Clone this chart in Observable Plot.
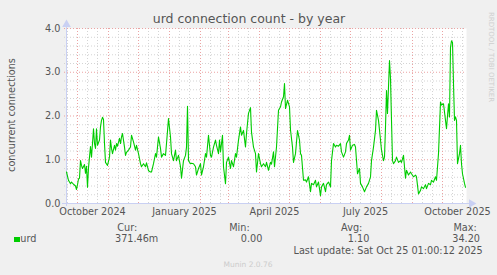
<!DOCTYPE html>
<html><head><meta charset="utf-8">
<script src="https://cdn.jsdelivr.net/npm/d3@7"></script>
<script src="https://cdn.jsdelivr.net/npm/@observablehq/plot@0.6"></script>
<style>
html,body{margin:0;padding:0;background:#f0f0f0;}
#wrap{position:relative;width:497px;height:275px;background:#f0f0f0;font-family:"DejaVu Sans",sans-serif;color:#555;overflow:hidden}
#wrap .t{position:absolute;white-space:nowrap;line-height:1;font-size:9.7px}
#chart{position:absolute;left:0;top:0}
</style></head><body>
<div id="wrap">
  <div id="chart"></div>
  <div class="t" id="title" style="font-size:12.5px;left:249px;top:13.4px;transform:translateX(-50%)"></div>
  <div class="t" id="ylabel" style="left:11.5px;top:115px;transform:translate(-50%,-50%) rotate(-90deg)"></div>
  <div class="t" id="rrd" style="font-size:7px;color:#cfcfcf;left:489.5px;top:57px;transform:translate(-50%,-50%) rotate(90deg)"></div>
  <div id="legend"></div>
  <div class="t" id="update" style="right:14.3px;top:246.1px"></div>
  <div class="t" id="munin" style="font-size:7.5px;color:#cccccc;left:248px;top:260.7px;transform:translateX(-50%)"></div>
</div>
<script>
// ---- chart texts ----
const titleText = "urd connection count - by year";
const yLabelText = "concurrent connections";
const watermark = "RRDTOOL / TOBI OETIKER";
const seriesName = "urd";
const legendHeads = ["Cur:", "Min:", "Avg:", "Max:"];
const legendValues = ["371.46m", "0.00", "1.10", "34.20"];
const lastUpdate = "Last update: Sat Oct 25 01:00:12 2025";
const footer = "Munin 2.0.76";

// ---- axes ----
const xStart = "2024-09-20", xEnd = "2025-10-25";
const xTickDates = ["2024-10-01", "2025-01-01", "2025-04-01", "2025-07-01", "2025-10-01"];
const xTickLabels = ["October 2024", "January 2025", "April 2025", "July 2025", "October 2025"];
const yTicks = [0, 1, 2, 3, 4];

// ---- series (daily average concurrent connections) ----
const dates = [
"2024-09-20","2024-09-22","2024-09-24","2024-09-25","2024-09-27","2024-09-29","2024-09-30","2024-10-01","2024-10-02","2024-10-03",
"2024-10-04","2024-10-05","2024-10-06","2024-10-08","2024-10-09","2024-10-10","2024-10-11","2024-10-12","2024-10-14","2024-10-15",
"2024-10-16","2024-10-17","2024-10-18","2024-10-19","2024-10-20","2024-10-21","2024-10-23","2024-10-24","2024-10-25","2024-10-26",
"2024-10-27","2024-10-28","2024-10-29","2024-10-31","2024-11-02","2024-11-03","2024-11-04","2024-11-05","2024-11-07","2024-11-08",
"2024-11-09","2024-11-10","2024-11-12","2024-11-13","2024-11-14","2024-11-15","2024-11-17","2024-11-18","2024-11-19","2024-11-21",
"2024-11-23","2024-11-24","2024-11-26","2024-11-28","2024-11-29","2024-12-01","2024-12-03","2024-12-04","2024-12-06","2024-12-08",
"2024-12-09","2024-12-11","2024-12-13","2024-12-14","2024-12-16","2024-12-18","2024-12-19","2024-12-21","2024-12-23","2024-12-24",
"2024-12-26","2024-12-28","2024-12-29","2024-12-31","2025-01-02","2025-01-03","2025-01-05","2025-01-07","2025-01-08","2025-01-10",
"2025-01-12","2025-01-13","2025-01-15","2025-01-17","2025-01-18","2025-01-19","2025-01-20","2025-01-22","2025-01-23","2025-01-25",
"2025-01-27","2025-01-28","2025-01-30","2025-02-01","2025-02-02","2025-02-04","2025-02-06","2025-02-07","2025-02-09","2025-02-11",
"2025-02-12","2025-02-14","2025-02-16","2025-02-17","2025-02-19","2025-02-20","2025-02-21","2025-02-23","2025-02-24","2025-02-26",
"2025-02-27","2025-03-01","2025-03-03","2025-03-04","2025-03-06","2025-03-08","2025-03-09","2025-03-11","2025-03-13","2025-03-14",
"2025-03-16","2025-03-18","2025-03-19","2025-03-21","2025-03-23","2025-03-24","2025-03-26","2025-03-28","2025-03-29","2025-03-31",
"2025-04-02","2025-04-03","2025-04-05","2025-04-07","2025-04-08","2025-04-10","2025-04-12","2025-04-13","2025-04-15","2025-04-16",
"2025-04-18","2025-04-20","2025-04-22","2025-04-23","2025-04-25","2025-04-26","2025-04-27","2025-04-29","2025-05-01","2025-05-02",
"2025-05-04","2025-05-05","2025-05-07","2025-05-09","2025-05-11","2025-05-12","2025-05-13","2025-05-15","2025-05-17","2025-05-18",
"2025-05-20","2025-05-22","2025-05-23","2025-05-25","2025-05-27","2025-05-28","2025-05-30","2025-06-01","2025-06-02","2025-06-04",
"2025-06-06","2025-06-07","2025-06-09","2025-06-11","2025-06-12","2025-06-14","2025-06-16","2025-06-17","2025-06-19","2025-06-21",
"2025-06-22","2025-06-24","2025-06-26","2025-06-27","2025-06-29","2025-06-30","2025-07-01","2025-07-03","2025-07-05","2025-07-06",
"2025-07-08","2025-07-10","2025-07-11","2025-07-13","2025-07-15","2025-07-17","2025-07-19","2025-07-21","2025-07-22","2025-07-24",
"2025-07-26","2025-07-27","2025-07-29","2025-07-31","2025-08-01","2025-08-03","2025-08-04","2025-08-05","2025-08-06","2025-08-07",
"2025-08-09","2025-08-10","2025-08-11","2025-08-12","2025-08-13","2025-08-15","2025-08-16","2025-08-18","2025-08-20","2025-08-21",
"2025-08-23","2025-08-25","2025-08-26","2025-08-28","2025-08-30","2025-08-31","2025-09-02","2025-09-04","2025-09-05","2025-09-07",
"2025-09-09","2025-09-10","2025-09-12","2025-09-14","2025-09-15","2025-09-17","2025-09-19","2025-09-20","2025-09-22","2025-09-24",
"2025-09-25","2025-09-27","2025-09-29","2025-09-30","2025-10-02","2025-10-04","2025-10-05","2025-10-06","2025-10-07","2025-10-08",
"2025-10-09","2025-10-10","2025-10-11","2025-10-12","2025-10-13","2025-10-14","2025-10-15","2025-10-16","2025-10-18","2025-10-19",
"2025-10-20","2025-10-21","2025-10-23","2025-10-24"
];
const values = [
0.72,0.53,0.45,0.49,0.44,0.40,0.32,0.43,0.56,0.58,
0.98,0.87,0.80,0.89,0.69,0.85,0.37,0.82,1.30,1.06,
1.37,1.71,1.37,1.26,1.71,1.33,1.45,1.75,1.90,1.97,
1.92,1.37,0.94,0.87,1.06,1.45,1.26,1.14,1.33,1.22,
1.37,1.31,1.49,1.37,1.52,1.60,1.29,1.10,1.17,1.22,
1.29,1.56,1.41,1.22,1.33,1.14,0.91,0.84,0.91,0.84,
0.93,0.75,0.72,0.72,0.91,1.14,1.06,1.52,1.26,1.06,
1.14,1.10,1.37,1.94,1.52,1.14,0.98,1.22,0.98,1.10,
0.84,0.58,0.98,1.10,1.29,2.22,0.98,0.91,0.92,0.91,
0.84,0.65,0.80,0.91,0.65,0.84,1.14,1.06,1.56,1.10,
1.06,1.29,1.45,1.33,1.14,1.45,1.18,1.56,0.84,0.45,
0.94,1.06,0.80,0.98,0.84,1.14,1.06,1.45,1.75,1.56,
1.67,1.29,1.60,2.06,2.19,1.63,1.29,1.14,0.72,1.14,
0.91,0.84,0.91,0.84,0.94,0.76,0.94,0.90,1.18,0.84,
1.29,2.13,2.21,2.32,2.44,2.74,2.17,2.36,2.21,1.68,
1.29,0.94,1.14,1.67,1.45,1.14,1.10,0.53,0.54,0.49,
0.61,0.27,0.46,0.43,0.53,0.38,0.49,0.18,0.38,0.46,
0.27,0.43,0.49,0.38,0.98,1.37,1.29,1.33,1.31,1.37,
1.18,1.06,1.18,1.37,1.45,1.56,1.22,1.33,1.35,1.29,
0.68,0.80,0.46,0.38,0.27,0.38,0.46,0.61,0.98,1.29,
1.67,2.13,1.90,1.45,1.22,0.98,1.06,1.75,2.58,2.06,
3.27,2.86,1.90,0.98,0.91,0.98,1.06,0.94,0.98,0.94,
1.10,0.58,0.76,0.65,0.72,0.68,0.61,0.65,0.61,0.22,
0.30,0.38,0.34,0.43,0.34,0.46,0.43,0.53,0.49,0.61,
0.53,1.14,2.32,2.25,2.28,1.90,1.71,2.00,2.28,1.98,
3.57,3.72,3.68,2.74,1.90,1.98,1.90,0.91,1.14,1.33,
0.91,0.68,0.46,0.37
];

// ---- build ----
const data = dates.map((d, i) => ({date: new Date(d), value: values[i]}));
const x0 = new Date(xStart), x1 = new Date(xEnd);
const monthLines = d3.utcMonth.range(x0, x1);
const minorX = d3.utcMonth.range(d3.utcMonth.floor(x0), x1)
  .flatMap(m => [d3.utcDay.offset(m, 10), d3.utcDay.offset(m, 20)])
  .filter(d => d >= x0 && d <= x1);
const minorY = d3.range(1, 20).filter(i => i % 5).map(i => i / 5);
const majorY = yTicks.filter(v => v > 0);
const tickPos = xTickDates.map(d => d3.utcDay.offset(new Date(d), 15));

const AXIS = "#c9d0f3", GRID = "#d4d4d4", MGRID = "#eba3a3", LINE = "#00cc00";

const chart = Plot.plot({
  width: 497, height: 275,
  marginLeft: 66, marginRight: 31, marginTop: 28, marginBottom: 72,
  style: {background: "transparent", fontFamily: "DejaVu Sans, sans-serif", fontSize: "9.7px", color: "#555", overflow: "visible"},
  x: {type: "utc", domain: [x0, x1], ticks: tickPos, tickFormat: (d, i) => xTickLabels[i], tickSize: 0, tickPadding: 5, label: null},
  y: {domain: [0, 4], ticks: yTicks, tickFormat: d3.format(".1f"), tickSize: 0, tickPadding: 6, label: null},
  marks: [
    Plot.frame({fill: "white"}),
    Plot.ruleY(minorY, {stroke: GRID, strokeDasharray: "1,2", insetLeft: -2}),
    Plot.ruleX(minorX, {stroke: GRID, strokeDasharray: "1,2", insetBottom: -2}),
    Plot.ruleY(majorY, {stroke: MGRID, strokeDasharray: "1,2", insetLeft: -2}),
    Plot.ruleX(monthLines, {stroke: MGRID, strokeDasharray: "1,2", insetBottom: -2}),
    Plot.ruleY([0], {stroke: AXIS, insetLeft: -4, insetRight: -3}),
    Plot.ruleX([x0], {stroke: AXIS, insetTop: -3, insetBottom: -3}),
    Plot.dot([{x: x1, y: 0}], {x: "x", y: "y", symbol: "triangle", r: 3.2, rotate: 90, fill: AXIS, stroke: null, dx: 5}),
    Plot.dot([{x: x0, y: 4}], {x: "x", y: "y", symbol: "triangle", r: 3.2, fill: AXIS, stroke: null, dy: -4}),
    Plot.line(data, {x: "date", y: "value", stroke: LINE, strokeWidth: 1.1})
  ]
});
document.getElementById("chart").appendChild(chart);

// ---- texts ----
document.getElementById("title").textContent = titleText;
document.getElementById("ylabel").textContent = yLabelText;
document.getElementById("rrd").textContent = watermark;
document.getElementById("update").textContent = lastUpdate;
document.getElementById("munin").textContent = footer;

const legend = document.getElementById("legend");
const headRight = [137.3, 249.7, 362.3, 476.7];
const valRight = [158.3, 262.3, 369.3, 480];
function addText(txt, right, top) {
  const el = document.createElement("div");
  el.className = "t";
  el.textContent = txt;
  el.style.right = (497 - right) + "px";
  el.style.top = top + "px";
  legend.appendChild(el);
}
legendHeads.forEach((h, i) => addText(h, headRight[i], 222.8));
legendValues.forEach((v, i) => addText(v, valRight[i], 234.1));
const sw = document.createElement("div");
sw.style.cssText = "position:absolute;left:14px;top:236.5px;width:5.5px;height:5.5px;background:" + LINE;
legend.appendChild(sw);
const nm = document.createElement("div");
nm.className = "t";
nm.textContent = seriesName;
nm.style.left = "20.3px";
nm.style.top = "234.1px";
legend.appendChild(nm);
</script>
</body></html>
